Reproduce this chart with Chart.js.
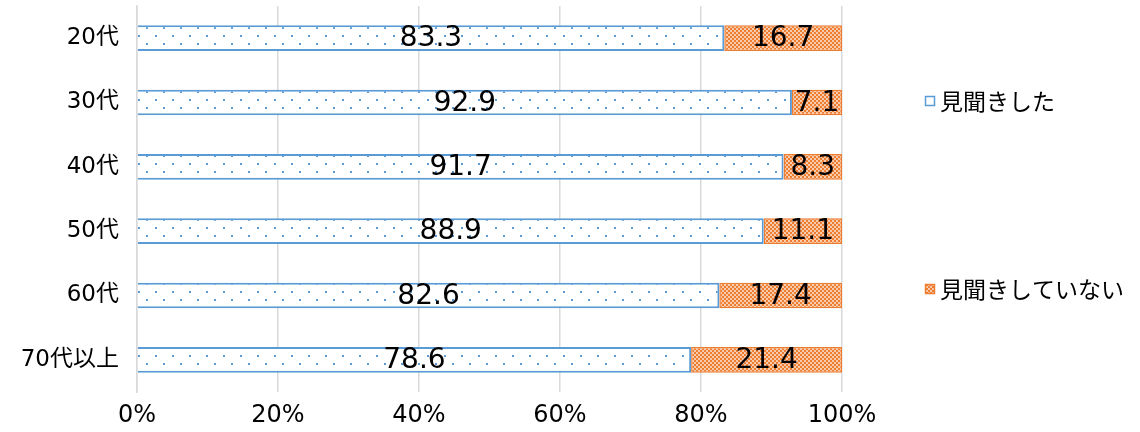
<!DOCTYPE html>
<html lang="ja">
<head>
<meta charset="utf-8">
<script src="https://cdn.jsdelivr.net/npm/chart.js@4/dist/chart.umd.min.js"></script>
<style>
  html, body { margin: 0; padding: 0; background: #fff; }
  #wrap { width: 1140px; height: 432px; position: relative; }
</style>
</head>
<body>
<div id="wrap"><canvas id="chart"></canvas></div>
<script>
const ageGroups = ['20代', '30代', '40代', '50代', '60代', '70代以上'];
const seenValues = [83.3, 92.9, 91.7, 88.9, 82.6, 78.6];
const notSeenValues = [16.7, 7.1, 8.3, 11.1, 17.4, 21.4];
const seriesNames = ['見聞きした', '見聞きしていない'];
const xTicks = [0, 20, 40, 60, 80, 100];

const BLUE = '#5B9BD5';
const ORANGE = '#ED7D31';
const JP_FONT = '"DejaVu Sans", "Noto Sans CJK JP", sans-serif';

// white fill sprinkled with small blue dots
function dotPattern() {
  const c = document.createElement('canvas');
  c.width = 17; c.height = 16;
  const g = c.getContext('2d');
  g.fillStyle = '#fff';
  g.fillRect(0, 0, 17, 16);
  g.fillStyle = BLUE;
  g.fillRect(2, 3, 2, 2);
  g.fillRect(10, 11, 2, 2);
  return g.createPattern(c, 'repeat');
}

// fine orange / white checker
function checkPattern() {
  const c = document.createElement('canvas');
  c.width = 4; c.height = 4;
  const g = c.getContext('2d');
  g.fillStyle = ORANGE;
  g.fillRect(0, 0, 4, 4);
  g.fillStyle = '#F8CBAD';
  g.fillRect(0, 0, 2, 2);
  g.fillRect(2, 2, 2, 2);
  return g.createPattern(c, 'repeat');
}

const dots = dotPattern();
const checks = checkPattern();

// value text centred in every bar segment
const barLabels = {
  id: 'barLabels',
  afterDatasetsDraw(chart) {
    const ctx = chart.ctx;
    ctx.save();
    ctx.font = '28px "DejaVu Sans", sans-serif';
    ctx.fillStyle = '#000';
    ctx.textAlign = 'center';
    ctx.textBaseline = 'middle';
    chart.data.datasets.forEach((ds, i) => {
      chart.getDatasetMeta(i).data.forEach((bar, j) => {
        const cx = (bar.x + bar.base) / 2;
        ctx.fillText(ds.data[j].toFixed(1), cx, bar.y + 1);
      });
    });
    ctx.restore();
  }
};

// legend on the right, entries spread vertically
const sideLegend = {
  id: 'sideLegend',
  afterDraw(chart) {
    const ctx = chart.ctx;
    const items = [
      { y: 101, fill: '#fff', stroke: BLUE },
      { y: 289, fill: checks, stroke: ORANGE }
    ];
    ctx.save();
    ctx.font = '23px "Noto Sans CJK JP", sans-serif';
    ctx.textBaseline = 'middle';
    items.forEach((it, i) => {
      ctx.fillStyle = it.fill;
      ctx.fillRect(925, it.y - 5, 10, 10);
      ctx.strokeStyle = it.stroke;
      ctx.lineWidth = 1.5;
      ctx.strokeRect(925.5, it.y - 4.5, 9, 9);
      ctx.fillStyle = '#000';
      ctx.fillText(seriesNames[i], 940, it.y);
    });
    ctx.restore();
  }
};

new Chart(document.getElementById('chart'), {
  type: 'bar',
  data: {
    labels: ageGroups,
    datasets: [
      {
        label: seriesNames[0],
        data: seenValues,
        backgroundColor: dots,
        borderColor: BLUE,
        borderWidth: 2,
        borderSkipped: 'start',
        barPercentage: 0.4,
        categoryPercentage: 1
      },
      {
        label: seriesNames[1],
        data: notSeenValues,
        backgroundColor: checks,
        borderColor: ORANGE,
        borderWidth: 1.5,
        borderSkipped: false,
        barPercentage: 0.4,
        categoryPercentage: 1
      }
    ]
  },
  options: {
    indexAxis: 'y',
    responsive: true,
    maintainAspectRatio: false,
    animation: false,
    layout: { padding: { top: 6, right: 298, bottom: 0, left: 0 } },
    plugins: {
      legend: { display: false },
      tooltip: { enabled: false }
    },
    scales: {
      x: {
        stacked: true,
        min: 0,
        max: 100,
        afterBuildTicks(scale) {
          scale.ticks = xTicks.map(v => ({ value: v }));
        },
        afterFit(scale) {
          scale.height = 40;
          scale.paddingLeft = 0;
          scale.paddingRight = 0;
        },
        grid: { color: '#D9D9D9', lineWidth: 1.5, drawTicks: false },
        border: { display: false },
        ticks: {
          padding: 9,
          color: '#000',
          font: { family: JP_FONT, size: 24 },
          callback: v => v + '%'
        }
      },
      y: {
        stacked: true,
        afterFit(scale) {
          scale.width = 137;
          scale.paddingTop = 0;
          scale.paddingBottom = 0;
        },
        grid: { display: false, drawTicks: false },
        border: { color: '#D9D9D9', width: 1.5 },
        ticks: {
          padding: 18,
          color: '#000',
          font: { family: JP_FONT, size: 23 }
        }
      }
    }
  },
  plugins: [barLabels, sideLegend]
});
</script>
</body>
</html>
